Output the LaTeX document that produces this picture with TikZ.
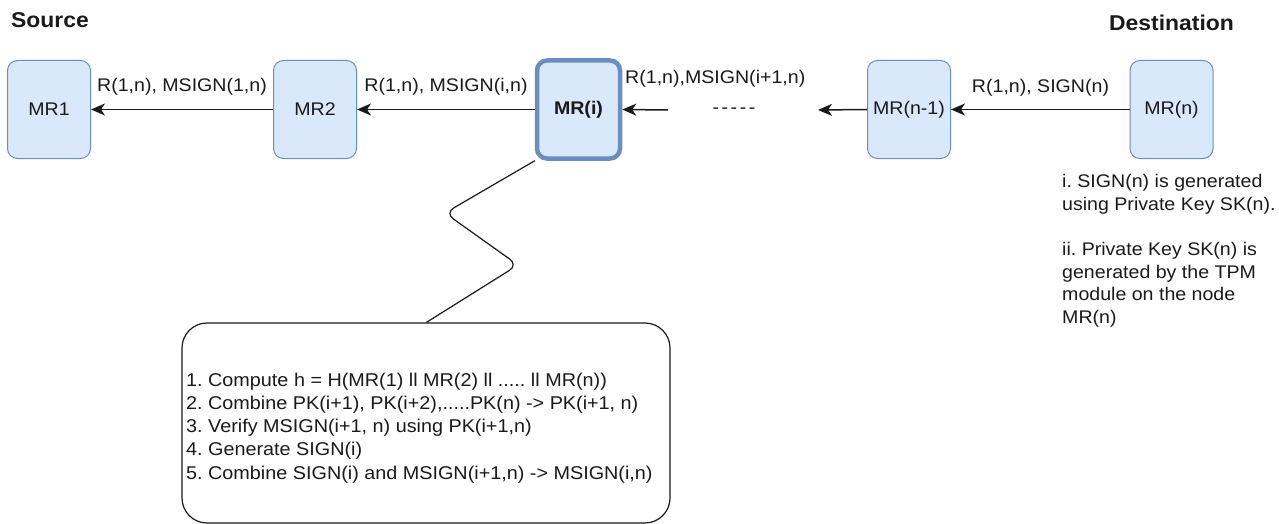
\documentclass[tikz,border=0pt]{standalone}
\usepackage{fontspec}
\setmainfont[FakeStretch=1.07]{Liberation Sans}
\usetikzlibrary{arrows.meta}
\definecolor{mrfill}{HTML}{DAE8FC}
\definecolor{mrline}{HTML}{6C8EBF}
\definecolor{txt}{HTML}{1A1A1A}
\newcommand{\txtfont}{\fontsize{18.3}{22.7}\selectfont}
\newcommand{\stepfont}{\fontsize{18.5}{23.2}\selectfont}
\begin{document}
\frenchspacing
\begin{tikzpicture}[x=1pt,y=-1pt,
  every node/.style={text=txt},
  mr/.style={draw=mrline, fill=mrfill, rounded corners=10pt, minimum width=83pt,
    minimum height=98pt, line width=1pt, font=\txtfont, inner sep=0pt},
  mrbold/.style={mr, line width=4.5pt, font=\txtfont\bfseries},
  flow/.style={-{Stealth[length=14pt,width=12pt,inset=4pt]}, line width=1.5pt, draw=txt},
  lbl/.style={font=\txtfont, inner sep=0pt},
  ttl/.style={font=\fontsize{21.4}{25}\selectfont\bfseries, inner sep=0pt},
  stepsbox/.style={draw=txt, line width=1.2pt, rounded corners=25pt, minimum width=488pt,
    minimum height=200pt},
  notes/.style={font=\txtfont, align=left, inner sep=0pt, anchor=north west}]
\useasboundingbox (0,0) rectangle (1279,524);
\fill[white] (0,0) rectangle (1279,524);

% titles
\node[ttl] (src) at (50,20) {Source};
\node[ttl] (dst) at (1171.5,23) {Destination};

% free ends of connectors
\coordinate (cin) at (668,110);
\coordinate (cout) at (818,110);
\coordinate (zz1) at (445,213);
\coordinate (zz2) at (518,265);

% nodes
\node[mr] (mr1) at (49,109.5) {MR1};
\node[mr] (mr2) at (315,109.5) {MR2};
\node[mrbold] (mri) at (578.5,109.5) {MR(i)};
\node[mr] (mrn1) at (909,109.5) {MR(n-1)};
\node[mr] (mrn) at (1171.5,109.5) {MR(n)};

\node[stepsbox] (steps) at (426,423) {};
\node[font=\stepfont, align=left, inner sep=0pt, anchor=west] (steptext) at (186,428)
{1. Compute h = H(MR(1) ll MR(2) ll ..... ll MR(n))\\
2. Combine PK(i+1), PK(i+2),.....PK(n) -> PK(i+1, n)\\
3. Verify MSIGN(i+1, n) using PK(i+1,n)\\
4. Generate SIGN(i)\\
5. Combine SIGN(i) and MSIGN(i+1,n) -> MSIGN(i,n)};

% arrows
\draw[flow] (mr2.west) -- (mr1.east);
\draw[flow] (mri.west) -- (mr2.east);
\draw[flow] (cin) -- (mri.east);
\draw[flow] (mrn1.west) -- (cout);
\draw[flow] (mrn.west) -- (mrn1.east);

% zigzag callout
\draw[txt, line width=1.2pt, rounded corners=10pt]
  (mri.south west) -- (zz1) -- (zz2) -- ([xshift=245pt]steps.north west);

% edge labels
\node[lbl] (l1) at (182,87) {R(1,n), MSIGN(1,n)};
\node[lbl] (l2) at (446,87) {R(1,n), MSIGN(i,n)};
\node[lbl, anchor=west] (l3) at (625,79) {R(1,n),MSIGN(i+1,n)};
\node[lbl] (l4) at (1040.5,88) {R(1,n), SIGN(n)};
\node[lbl] (dots) at (734,111) {-\hspace{2.6pt}-\hspace{2.6pt}-\hspace{2.6pt}-\hspace{2.6pt}-};

% notes
\node[notes] (nt) at (1062,174) {i. SIGN(n) is generated\\
using Private Key SK(n).\\[22.7pt]
ii. Private Key SK(n) is\\
generated by the TPM\\
module on the node\\
MR(n)};
\end{tikzpicture}
\end{document}
